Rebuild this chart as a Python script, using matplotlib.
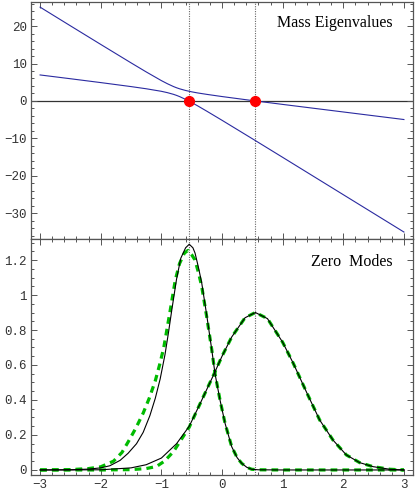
import matplotlib
matplotlib.use("Agg")
import matplotlib.pyplot as plt
from matplotlib.ticker import MultipleLocator

# --- painel superior: autovalores de massa ---
x_massa = [-3, -2.5, -2, -1.5, -1.25, -1, -0.9, -0.8, -0.75, -0.7, -0.6,
           -0.5, -0.4, -0.25, 0, 0.5, 1, 1.5, 2, 2.5, 3]
massa_sup = [25.06, 20.07, 15.10, 10.17, 7.75, 5.43, 4.59, 3.84, 3.52, 3.24,
             2.79, 2.43, 2.13, 1.75, 1.17, 0.10, -0.93, -1.94, -2.95, -3.96, -4.97]
massa_inf = [6.94, 5.93, 4.90, 3.83, 3.25, 2.57, 2.21, 1.76, 1.48, 1.16,
             0.41, -0.43, -1.33, -2.75, -5.17, -10.10, -15.07, -20.06, -25.05,
             -30.04, -35.03]
zeros_x = [-0.55, 0.55]

# --- painel inferior: modos zero ---
x_modo1 = [-3, -2.5, -2.2, -2, -1.85, -1.68, -1.55, -1.41, -1.3, -1.19, -1.1,
           -1.02, -0.94, -0.885, -0.83, -0.75, -0.68, -0.6, -0.54, -0.48,
           -0.445, -0.39, -0.335, -0.25, -0.17, -0.115, -0.033, 0.05, 0.16,
           0.25, 0.325, 0.41, 0.49, 0.6, 1, 3]
modo1_exato = [0, 0.001, 0.005, 0.012, 0.024, 0.055, 0.095, 0.15, 0.215, 0.31,
               0.41, 0.52, 0.66, 0.78, 0.91, 1.09, 1.21, 1.27, 1.29, 1.27,
               1.24, 1.16, 1.07, 0.88, 0.69, 0.55, 0.40, 0.267, 0.133, 0.07,
               0.038, 0.015, 0.004, 0.001, 0, 0]

x_modo1_aprox = [-3, -2.5, -2.2, -2, -1.79, -1.65, -1.54, -1.42, -1.3, -1.2,
                 -1.1, -1.03, -0.96, -0.86, -0.77, -0.7, -0.62, -0.56, -0.5,
                 -0.445, -0.39, -0.335, -0.25, -0.17, -0.115, -0.033, 0.05,
                 0.16, 0.25, 0.325, 0.41, 0.49, 0.6, 1, 3]
modo1_aprox = [0, 0.002, 0.008, 0.018, 0.05, 0.10, 0.165, 0.24, 0.325, 0.41,
               0.51, 0.60, 0.70, 0.90, 1.086, 1.18, 1.24, 1.255, 1.23, 1.20,
               1.13, 1.05, 0.87, 0.69, 0.55, 0.40, 0.267, 0.133, 0.07, 0.038,
               0.015, 0.004, 0.001, 0, 0]

x_modo2 = [-3, -2, -1.5, -1.25, -1, -0.75, -0.54, -0.36, -0.13, 0, 0.16,
           0.38, 0.55, 0.75, 1.0, 1.175, 1.4, 1.61, 1.83, 2.05, 2.27, 2.49,
           2.77, 3]
modo2_exato = [0, 0.001, 0.012, 0.03, 0.068, 0.15, 0.25, 0.38, 0.55, 0.65,
               0.76, 0.87, 0.90, 0.865, 0.73, 0.61, 0.44, 0.286, 0.171, 0.086,
               0.042, 0.019, 0.004, 0]

x_modo2_aprox = [-3, -2, -1.5, -1.25, -1.08, -0.95, -0.8, -0.54, -0.36, -0.13,
                 0, 0.16, 0.38, 0.55, 0.75, 1.0, 1.175, 1.4, 1.61, 1.83, 2.05,
                 2.27, 2.49, 2.77, 3]
modo2_aprox = [0, 0, 0.002, 0.008, 0.02, 0.05, 0.105, 0.245, 0.38, 0.55,
               0.65, 0.76, 0.87, 0.90, 0.865, 0.73, 0.61, 0.44, 0.286, 0.171,
               0.086, 0.042, 0.019, 0.004, 0]

AZUL = '#2a2aa0'
VERDE = '#00bb00'
CINZA = '#555555'
FONTE_TICKS = ['Liberation Mono', 'DejaVu Sans Mono']
FONTE_TEXTO = ['Liberation Serif', 'DejaVu Serif']


def estilo_eixo(ax, menor_y, maior_y):
    """Moldura estilo Mathematica: ticks para dentro nos quatro lados."""
    ax.set_xlim(-3.15, 3.15)
    ax.xaxis.set_major_locator(MultipleLocator(1))
    ax.xaxis.set_minor_locator(MultipleLocator(0.2))
    ax.yaxis.set_major_locator(MultipleLocator(maior_y))
    ax.yaxis.set_minor_locator(MultipleLocator(menor_y))
    ax.tick_params(which='both', direction='in', top=True, right=True,
                   color=CINZA, width=0.7, labelcolor='#333333', labelsize=9,
                   pad=3)
    ax.tick_params(which='major', length=4.5)
    ax.tick_params(which='minor', length=2.2)
    for sp in ax.spines.values():
        sp.set_color(CINZA)
        sp.set_linewidth(0.9)
    for lbl in ax.get_xticklabels() + ax.get_yticklabels():
        lbl.set_family(FONTE_TICKS)


def plotar():
    fig = plt.figure(figsize=(4.15, 4.9), dpi=100)
    ax1 = fig.add_axes([0.0747, 0.5122, 0.9205, 0.4827])
    ax2 = fig.add_axes([0.0747, 0.0316, 0.9205, 0.4806])

    # Autovalores
    ax1.axhline(0, color='#333333', lw=0.9, zorder=1)
    for z in zeros_x:
        ax1.axvline(z, color='#666666', lw=0.8, ls=(0, (1, 1.2)), zorder=1)
    ax1.plot(x_massa, massa_sup, color=AZUL, lw=0.8, zorder=2)
    ax1.plot(x_massa, massa_inf, color=AZUL, lw=0.8, zorder=2)
    ax1.plot(zeros_x, [0, 0], 'o', color='red', ms=7, mec='red', zorder=3)
    ax1.set_ylim(-36.9, 26.3)
    estilo_eixo(ax1, 2, 10)
    ax1.tick_params(labelbottom=False)
    ax1.text(0.947, 0.913, 'Mass Eigenvalues', transform=ax1.transAxes,
             ha='right', va='center', fontsize=11.5, family=FONTE_TEXTO)

    # Modos zero
    for z in zeros_x:
        ax2.axvline(z, color='#666666', lw=0.8, ls=(0, (1, 1.2)), zorder=1)
    ax2.plot(x_modo1, modo1_exato, color='black', lw=0.8, zorder=3)
    ax2.plot(x_modo2, modo2_exato, color='black', lw=0.8, zorder=3)
    for xs, ys in [(x_modo1_aprox, modo1_aprox), (x_modo2_aprox, modo2_aprox)]:
        ax2.plot(xs, ys, color=VERDE, lw=2.3, ls=(0, (2.1, 1.6)),
                 dash_capstyle='butt', zorder=2)
    ax2.set_ylim(-0.026, 1.32)
    estilo_eixo(ax2, 0.05, 0.2)
    ax2.set_yticks([0, 0.2, 0.4, 0.6, 0.8, 1, 1.2])
    ax2.set_yticklabels(['0', '0.2', '0.4', '0.6', '0.8', '1', '1.2'],
                        family=FONTE_TICKS)
    ax2.set_xticks([-3, -2, -1, 0, 1, 2, 3])
    ax2.set_xticklabels(['\u22123', '\u22122', '\u22121', '0', '1', '2', '3'],
                        family=FONTE_TICKS)
    ax2.text(0.946, 0.902, 'Zero  Modes', transform=ax2.transAxes,
             ha='right', va='center', fontsize=11.5, family=FONTE_TEXTO)

    fig.savefig('out.png', dpi=100)


if __name__ == "__main__":
    plotar()
